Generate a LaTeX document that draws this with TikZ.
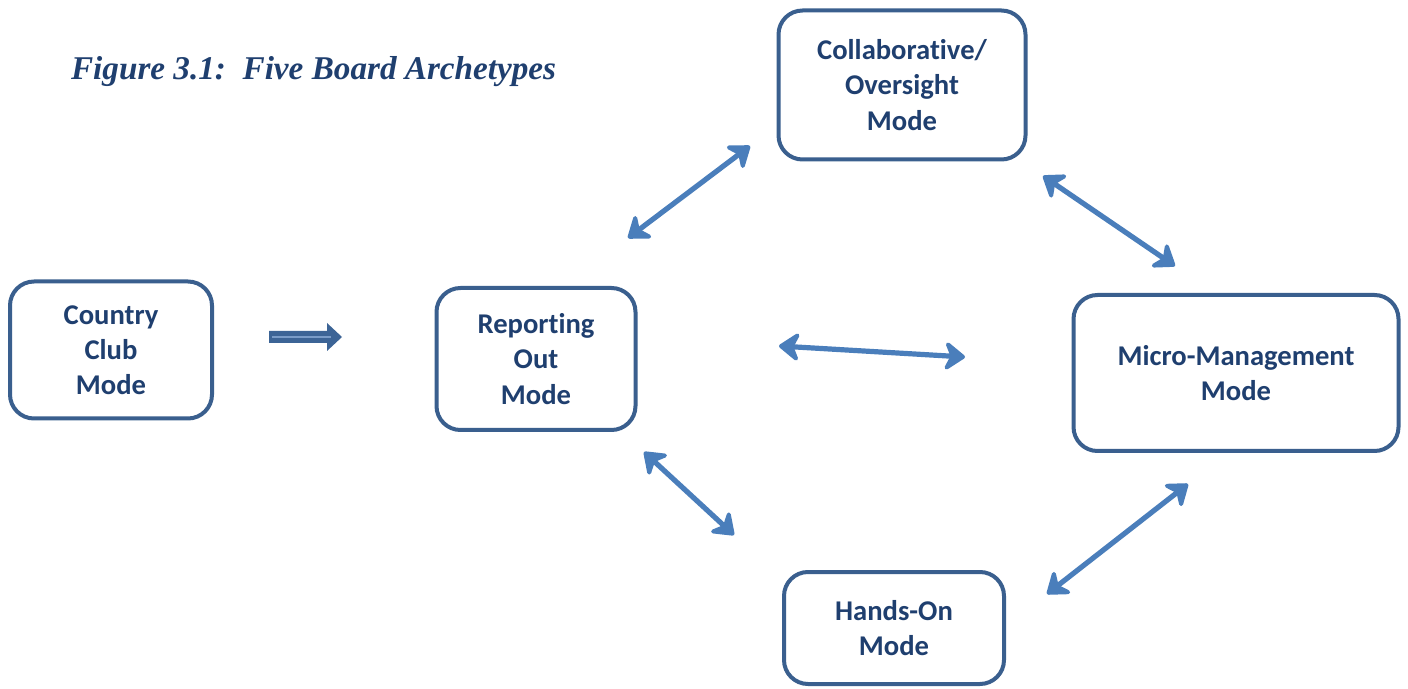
\documentclass[tikz,border=0pt]{standalone}
\usepackage{fontspec}
\setmainfont[Ligatures=NoCommon,Contextuals=NoAlternate]{Carlito}
\newfontfamily\titlefont{Liberation Serif}
\usetikzlibrary{arrows.meta}
\definecolor{boxline}{HTML}{3A5F8E}
\definecolor{boxtext}{HTML}{1F3F6F}
\definecolor{arrowblue}{HTML}{4A7EBB}
\definecolor{blockblue}{HTML}{3C6496}
\definecolor{blocklight}{HTML}{7A9CC8}

\begin{document}
\begin{tikzpicture}[x=0.5pt,y=-0.5pt,
    mode/.style={draw=boxline, line width=2pt, rounded corners=12pt, fill=white,
        inner sep=0pt, align=center, text=boxtext,
        font=\fontsize{14.3}{17.6}\selectfont\bfseries},
    link/.style={draw=arrowblue, line width=2.6pt, line cap=round,
        {Stealth[length=12pt,width=17.5pt,inset=4pt,round]}-{Stealth[length=12pt,width=17.5pt,inset=4pt,round]}}]
\useasboundingbox (0,0) rectangle (1408,689);

% title
\node [anchor=west, text=boxtext, font=\fontsize{16.6}{20}\selectfont\titlefont\bfseries\itshape] (title) at (64,72) {Figure 3.1:\ \ Five Board Archetypes};

% the five modes
\node [mode, minimum width=101pt, minimum height=68.5pt] (country) at (111,350) {Country\\Club\\Mode};
\node [mode, minimum width=99.5pt, minimum height=71pt] (report) at (536,359) {Reporting\\Out\\Mode};
\node [mode, minimum width=123.5pt, minimum height=74.5pt] (collab) at (902,85) {Collaborative/\\Oversight\\Mode};
\node [mode, minimum width=162.5pt, minimum height=78pt] (micro) at (1236,373) {Micro-Management\\Mode};
\node [mode, minimum width=110pt, minimum height=56pt] (hands) at (894,628) {Hands-On\\Mode};

% free ends of the links
\coordinate (rc) at (628,238);
\coordinate (cr) at (750,146);
\coordinate (cm) at (1043,176);
\coordinate (mc) at (1175,266);
\coordinate (rm) at (779,346);
\coordinate (mr) at (965,357);
\coordinate (rh) at (644,452);
\coordinate (hr) at (734,535);
\coordinate (hm) at (1047,594);
\coordinate (mh) at (1188,484);

\draw [link] (rc) -- (cr);
\draw [link] (cm) -- (mc);
\draw [link] (rm) -- (mr);
\draw [link] (rh) -- (hr);
\draw [link] (hm) -- (mh);

% block arrow country -> reporting
\fill [blockblue] (269,331) -- (327,331) -- (327,323) -- (342,337) -- (327,351) -- (327,343) -- (269,343) -- cycle;
\draw [blocklight, line width=1pt] (272,337) -- (331,337);
\end{tikzpicture}
\end{document}
